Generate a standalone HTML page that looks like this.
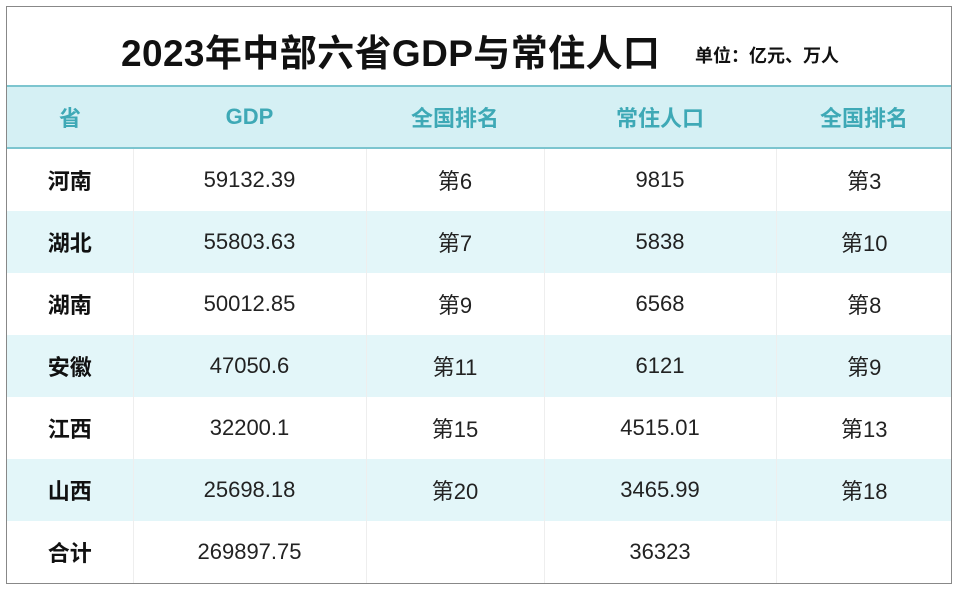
<!DOCTYPE html>
<html><head><meta charset="utf-8"><style>
body{margin:0;width:960px;height:590px;background:#fff;font-family:"Liberation Sans","Noto Sans CJK SC",sans-serif;}
.box{position:absolute;left:6px;top:6px;width:946px;height:578px;border:1px solid #888;box-sizing:border-box;overflow:hidden;}
.title{position:absolute;left:0;top:0;width:946px;height:78px;}
.t1{position:absolute;left:114px;top:16px;font-size:37px;font-weight:bold;color:#111;letter-spacing:0.4px;white-space:nowrap;}
.t2{position:absolute;left:688px;top:35px;font-size:18px;font-weight:bold;color:#111;white-space:nowrap;}
table{position:absolute;left:0;top:78px;border-collapse:collapse;width:945px;table-layout:fixed;}
td{height:62px;padding:0;text-align:center;font-size:22px;color:#222;border-left:1px solid #eee;vertical-align:middle;}
td span{position:relative;top:1px;}
td:first-child{border-left:none;font-weight:bold;color:#111;}
tr.h td{background:#d5f0f4;color:#3ea9b6;font-weight:bold;border-top:2px solid #7cc5cf;border-bottom:2px solid #7cc5cf;border-left:none;height:60px;}
tr.a td{background:#e3f6f9;}
</style></head><body>
<div class="box">
<div class="title"><div class="t1">2023年中部六省GDP与常住人口</div><div class="t2">单位：亿元、万人</div></div>
<table>
<colgroup><col style="width:126px"><col style="width:233px"><col style="width:178px"><col style="width:232px"><col></colgroup>
<tr class="h"><td>省</td><td>GDP</td><td>全国排名</td><td>常住人口</td><td>全国排名</td></tr>
<tr><td>河南</td><td>59132.39</td><td>第6</td><td>9815</td><td>第3</td></tr>
<tr class="a"><td>湖北</td><td>55803.63</td><td>第7</td><td>5838</td><td>第10</td></tr>
<tr><td>湖南</td><td>50012.85</td><td>第9</td><td>6568</td><td>第8</td></tr>
<tr class="a"><td>安徽</td><td>47050.6</td><td>第11</td><td>6121</td><td>第9</td></tr>
<tr><td>江西</td><td>32200.1</td><td>第15</td><td>4515.01</td><td>第13</td></tr>
<tr class="a"><td>山西</td><td>25698.18</td><td>第20</td><td>3465.99</td><td>第18</td></tr>
<tr><td>合计</td><td>269897.75</td><td></td><td>36323</td><td></td></tr>
</table>
</div>
</body></html>
